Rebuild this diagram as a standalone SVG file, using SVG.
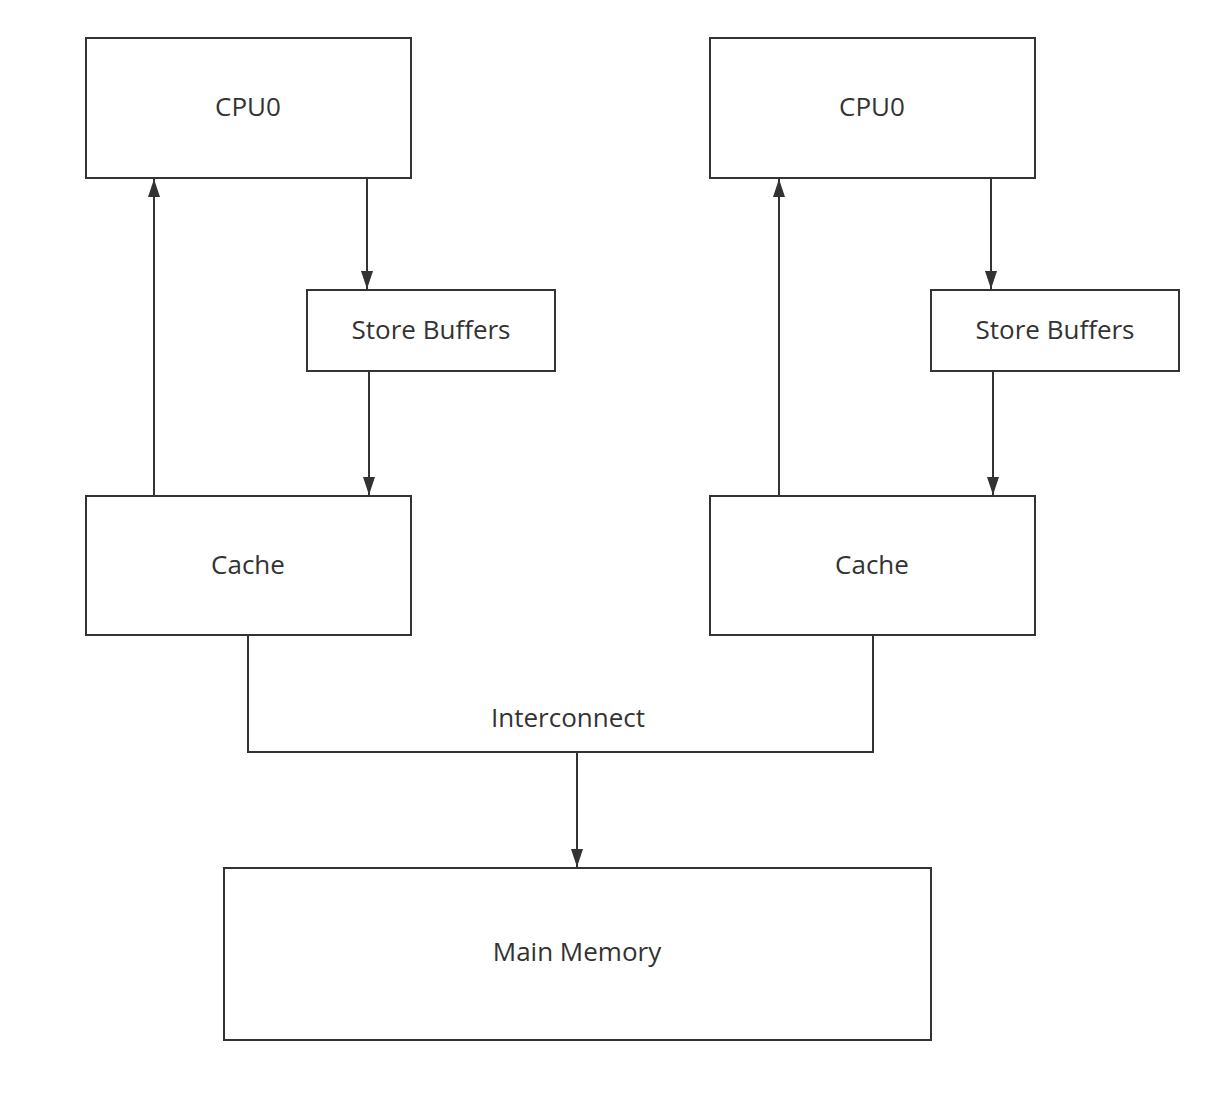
<svg xmlns="http://www.w3.org/2000/svg" width="1220" height="1100" viewBox="0 0 1220 1100">
<style>
.box{fill:#fff;stroke:#333;stroke-width:2}
.lbl{font-family:"Open Sans","Noto Sans",sans-serif;font-size:26px;fill:#333;text-anchor:middle;dominant-baseline:central}
.con{fill:none;stroke:#333;stroke-width:2}
</style>
<defs>
<marker id="arr" viewBox="0 0 18 12" refX="18" refY="6" markerWidth="18" markerHeight="12" markerUnits="userSpaceOnUse" orient="auto">
<path d="M0,0 L18,6 L0,12 z" fill="#333"/>
</marker>
</defs>
<rect width="1220" height="1100" fill="#fff"/>
<g id="cpu0-left"><rect class="box" x="86" y="38" width="325" height="140"/><text class="lbl" x="248" y="106">CPU0</text></g>
<g id="sb-left"><rect class="box" x="307" y="290" width="248" height="81"/><text class="lbl" x="431" y="329">Store Buffers</text></g>
<g id="cache-left"><rect class="box" x="86" y="496" width="325" height="139"/><text class="lbl" x="248" y="564">Cache</text></g>
<g id="cpu0-right"><rect class="box" x="710" y="38" width="325" height="140"/><text class="lbl" x="872" y="106">CPU0</text></g>
<g id="sb-right"><rect class="box" x="931" y="290" width="248" height="81"/><text class="lbl" x="1055" y="329">Store Buffers</text></g>
<g id="cache-right"><rect class="box" x="710" y="496" width="325" height="139"/><text class="lbl" x="872" y="564">Cache</text></g>
<g id="main-memory"><rect class="box" x="224" y="868" width="707" height="172"/><text class="lbl" x="577" y="951">Main Memory</text></g>
<g id="connectors">
<path class="con" d="M154,496 V179" marker-end="url(#arr)"/>
<path class="con" d="M367,178 V289" marker-end="url(#arr)"/>
<path class="con" d="M369,371 V495" marker-end="url(#arr)"/>
<path class="con" d="M779,496 V179" marker-end="url(#arr)"/>
<path class="con" d="M991,178 V289" marker-end="url(#arr)"/>
<path class="con" d="M993,371 V495" marker-end="url(#arr)"/>
<path class="con" d="M248,635 V752 H873 V635"/>
<path class="con" d="M577,752 V867" marker-end="url(#arr)"/>
<text class="lbl" x="568" y="717">Interconnect</text>
</g>
</svg>
